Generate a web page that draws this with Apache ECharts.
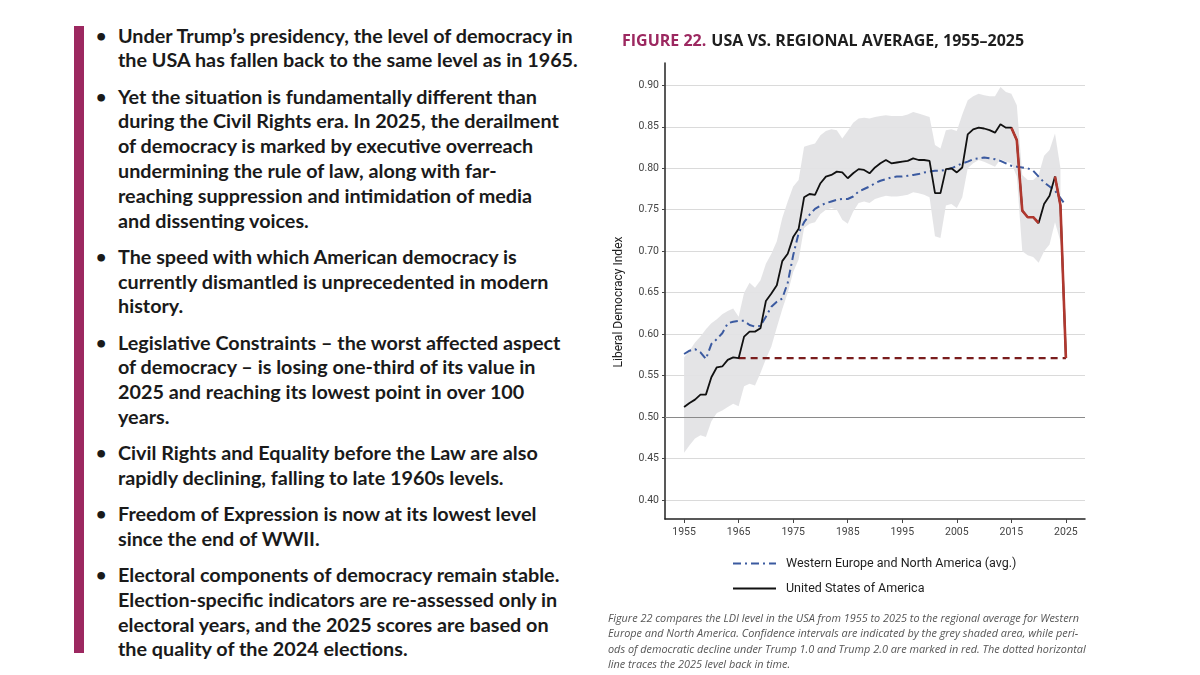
<!DOCTYPE html>
<html>
<head>
<meta charset="utf-8">
<script src="https://cdn.jsdelivr.net/npm/echarts@6/dist/echarts.min.js"></script>
<style>
html,body{margin:0;padding:0;background:#fff;}
#wrap{position:relative;width:1200px;height:675px;overflow:hidden;background:#fff;}
#chart{position:absolute;left:0;top:0;width:1200px;height:675px;}
#bar{position:absolute;left:74px;top:26px;width:10px;height:627px;background:#9c2860;}
#text{position:absolute;left:118px;top:22.6px;font-family:Lato,"Open Sans",sans-serif;font-weight:700;color:#1a1a1a;font-size:18px;}
.b{position:relative;margin-bottom:11.4px;}
.b::before{content:"\2022";position:absolute;left:-22px;top:0;line-height:24.8px;font-size:0.9em;}
.l{white-space:nowrap;line-height:24.8px;height:24.8px;}
.l span{display:inline-block;}
#cap{position:absolute;left:608px;top:609.5px;font-family:"Open Sans",sans-serif;font-style:italic;color:#555;font-size:12px;}
#cap .l{line-height:15.6px;height:15.6px;}
</style>
</head>
<body>
<div id="wrap">
  <div id="bar"></div>
  <div id="text">
    <div class="b">
      <div class="l"><span>Under Trump’s presidency, the level of democracy in</span></div>
      <div class="l"><span>the USA has fallen back to the same level as in 1965.</span></div>
    </div>
    <div class="b">
      <div class="l"><span>Yet the situation is fundamentally different than</span></div>
      <div class="l"><span>during the Civil Rights era. In 2025, the derailment</span></div>
      <div class="l"><span>of democracy is marked by executive overreach</span></div>
      <div class="l"><span>undermining the rule of law, along with far-</span></div>
      <div class="l"><span>reaching suppression and intimidation of media</span></div>
      <div class="l"><span>and dissenting voices.</span></div>
    </div>
    <div class="b">
      <div class="l"><span>The speed with which American democracy is</span></div>
      <div class="l"><span>currently dismantled is unprecedented in modern</span></div>
      <div class="l"><span>history.</span></div>
    </div>
    <div class="b">
      <div class="l"><span>Legislative Constraints – the worst affected aspect</span></div>
      <div class="l"><span>of democracy – is losing one-third of its value in</span></div>
      <div class="l"><span>2025 and reaching its lowest point in over 100</span></div>
      <div class="l"><span>years.</span></div>
    </div>
    <div class="b">
      <div class="l"><span>Civil Rights and Equality before the Law are also</span></div>
      <div class="l"><span>rapidly declining, falling to late 1960s levels.</span></div>
    </div>
    <div class="b">
      <div class="l"><span>Freedom of Expression is now at its lowest level</span></div>
      <div class="l"><span>since the end of WWII.</span></div>
    </div>
    <div class="b">
      <div class="l"><span>Electoral components of democracy remain stable.</span></div>
      <div class="l"><span>Election-specific indicators are re-assessed only in</span></div>
      <div class="l"><span>electoral years, and the 2025 scores are based on</span></div>
      <div class="l"><span>the quality of the 2024 elections.</span></div>
    </div>
  </div>
  <div id="chart"></div>
  <div id="cap">
    <div class="l"><span>Figure 22 compares the LDI level in the USA from 1955 to 2025 to the regional average for Western</span></div>
    <div class="l"><span>Europe and North America. Confidence intervals are indicated by the grey shaded area, while peri-</span></div>
    <div class="l"><span>ods of democratic decline under Trump 1.0 and Trump 2.0 are marked in red. The dotted horizontal</span></div>
    <div class="l"><span>line traces the 2025 level back in time.</span></div>
  </div>
</div>
<script>
// ---------- DATA ----------
const years = [1955,1956,1957,1958,1959,1960,1961,1962,1963,1964,
  1965,1966,1967,1968,1969,1970,1971,1972,1973,1974,
  1975,1976,1977,1978,1979,1980,1981,1982,1983,1984,
  1985,1986,1987,1988,1989,1990,1991,1992,1993,1994,
  1995,1996,1997,1998,1999,2000,2001,2002,2003,2004,
  2005,2006,2007,2008,2009,2010,2011,2012,2013,2014,
  2015,2016,2017,2018,2019,2020,2021,2022,2023,2024,2025];

const usa = [0.512,0.517,0.521,0.527,0.527,0.548,0.560,0.561,0.569,0.572,
  0.571,0.597,0.603,0.603,0.607,0.640,0.649,0.659,0.688,0.697,
  0.717,0.727,0.765,0.769,0.768,0.782,0.790,0.792,0.796,0.795,
  0.788,0.794,0.799,0.798,0.794,0.801,0.806,0.810,0.806,0.807,
  0.808,0.809,0.812,0.810,0.810,0.809,0.770,0.770,0.799,0.800,
  0.795,0.801,0.841,0.847,0.849,0.848,0.846,0.843,0.853,0.849,
  0.849,0.834,0.749,0.741,0.741,0.734,0.757,0.767,0.790,0.755,0.571];

const regional = [0.576,0.580,0.582,0.578,0.570,0.588,0.594,0.601,0.613,0.615,
  0.616,0.616,0.611,0.609,0.610,0.621,0.633,0.639,0.643,0.662,
  0.695,0.722,0.735,0.744,0.751,0.755,0.758,0.760,0.762,0.763,
  0.763,0.766,0.772,0.775,0.778,0.782,0.785,0.787,0.789,0.790,
  0.790,0.791,0.792,0.793,0.795,0.796,0.797,0.797,0.798,0.800,
  0.803,0.806,0.808,0.811,0.812,0.813,0.812,0.811,0.809,0.806,
  0.803,0.802,0.801,0.800,0.797,0.790,0.783,0.778,0.773,0.764,0.755];

const ciUpper = [0.572,0.580,0.590,0.597,0.606,0.613,0.618,0.624,0.628,0.631,
  0.621,0.650,0.662,0.656,0.665,0.685,0.697,0.712,0.740,0.760,
  0.778,0.786,0.826,0.828,0.830,0.840,0.845,0.847,0.846,0.836,
  0.845,0.855,0.860,0.861,0.860,0.862,0.863,0.864,0.863,0.863,
  0.863,0.865,0.868,0.866,0.864,0.862,0.828,0.824,0.846,0.847,
  0.845,0.865,0.882,0.887,0.890,0.888,0.887,0.887,0.898,0.892,
  0.890,0.876,0.792,0.786,0.786,0.792,0.815,0.822,0.842,0.800,null];

const ciLower = [0.457,0.466,0.474,0.478,0.476,0.495,0.505,0.508,0.512,0.516,
  0.513,0.537,0.540,0.538,0.553,0.570,0.585,0.608,0.630,0.650,
  0.675,0.690,0.728,0.733,0.735,0.745,0.750,0.752,0.750,0.738,
  0.733,0.748,0.758,0.760,0.758,0.763,0.765,0.767,0.766,0.766,
  0.767,0.768,0.771,0.770,0.768,0.765,0.718,0.716,0.755,0.757,
  0.752,0.765,0.800,0.806,0.810,0.808,0.805,0.802,0.811,0.808,
  0.806,0.790,0.700,0.695,0.693,0.686,0.700,0.708,0.735,0.712,null];

// periods of decline drawn in red (first and last year of each)
const redPeriods = [[2015, 2020], [2023, 2025]];
const refStartYear = 1965;   // dotted line traces the 2025 level back to this year

const xTicks = [1955,1965,1975,1985,1995,2005,2015,2025];
const yTicks = [0.40,0.45,0.50,0.55,0.60,0.65,0.70,0.75,0.80,0.85,0.90];

const nameRegional = 'Western Europe and North America (avg.)';
const nameUSA = 'United States of America';

// ---------- TEXT FITTING ----------
function fit(id, targetWidth, base) {
  const el = document.getElementById(id);
  el.style.fontSize = base + 'px';
  const first = el.querySelector('.l span');
  const w = first.getBoundingClientRect().width;
  el.style.fontSize = (base * targetWidth / w) + 'px';
}
fit('text', 455, 18);
fit('cap', 472, 12);

// ---------- CHART ----------
const cond = 'Roboto,"Liberation Sans",sans-serif';
const inRed = y => redPeriods.some(p => y >= p[0] && y <= p[1]);
const pair = arr => years.map((y, i) => [y, arr[i] == null ? null : arr[i]]);
const level2025 = usa[usa.length - 1];
const lastYear = years[years.length - 1];
const bandData = years.map((y, i) => [y, ciLower[i], ciUpper[i]]).filter(d => d[1] != null && d[2] != null);

const chart = echarts.init(document.getElementById('chart'), null, {renderer: 'canvas'});
chart.setOption({
  animation: false,
  backgroundColor: 'transparent',
  title: {
    left: 617, top: 27,
    text: '{a|FIGURE 22.} {b|USA VS. REGIONAL AVERAGE, 1955–2025}',
    textStyle: {
      rich: {
        a: {color: '#9c2860', fontWeight: 'bold', fontSize: 16, fontFamily: '"Open Sans",sans-serif'},
        b: {color: '#1e1e1e', fontWeight: 'bold', fontSize: 16, fontFamily: '"Open Sans",sans-serif'}
      }
    }
  },
  legend: {
    data: [nameRegional, nameUSA],
    orient: 'vertical',
    left: 727, top: 552,
    itemWidth: 43, itemHeight: 12, itemGap: 12,
    itemStyle: {opacity: 0},
    textStyle: {fontFamily: cond, fontSize: 12.5, color: '#1e1e1e', padding: [0, 0, 0, 5]}
  },
  grid: {left: 665, right: 115, top: 63, bottom: 156, containLabel: false},
  xAxis: {
    type: 'value', min: 1951.5, max: 2028.5,
    axisLine: {show: true, onZero: false, lineStyle: {color: '#222', width: 1.5}},
    axisTick: {show: true, customValues: xTicks, length: 4, lineStyle: {color: '#444'}},
    axisLabel: {customValues: xTicks, formatter: v => String(v), color: '#444', fontFamily: cond, fontSize: 10.5, margin: 8},
    splitLine: {show: false}
  },
  yAxis: {
    type: 'value', min: 0.377, max: 0.927,
    name: 'Liberal Democracy Index', nameLocation: 'middle', nameGap: 40, nameRotate: 90,
    nameTextStyle: {fontFamily: cond, fontSize: 12, color: '#1e1e1e', padding: [0, 22, 0, 0]},
    axisLine: {show: true, onZero: false, lineStyle: {color: '#222', width: 1.5}},
    axisTick: {show: true, customValues: yTicks, length: 3, lineStyle: {color: '#444'}},
    axisLabel: {customValues: yTicks, formatter: v => v.toFixed(2), color: '#444', fontFamily: cond, fontSize: 10.5, margin: 6},
    splitLine: {show: true, lineStyle: {color: '#dadada', width: 1.2}}
  },
  series: [
    {
      name: 'ci', type: 'custom', silent: true, z: 1, clip: true,
      data: bandData,
      encode: {x: 0, y: [1, 2]},
      renderItem: (params, api) => {
        if (params.dataIndex !== 0) return null;
        const top = bandData.map(d => api.coord([d[0], d[2]]));
        const bottom = bandData.map(d => api.coord([d[0], d[1]])).reverse();
        return {
          type: 'polygon',
          shape: {points: top.concat(bottom)},
          style: {fill: '#e3e3e5', opacity: 0.95}
        };
      }
    },
    {
      name: 'ref', type: 'line', data: [[refStartYear, level2025], [lastYear, level2025]],
      symbol: 'none', silent: true,
      lineStyle: {color: '#7a1d1d', width: 2.2, type: [7, 5]}, z: 2
    },
    {
      name: nameRegional, type: 'line', data: pair(regional),
      symbol: 'none', color: '#3b5aa0',
      lineStyle: {color: '#3b5aa0', width: 2, type: [8, 4, 2, 4]}, z: 3,
      markLine: {
        silent: true, symbol: 'none', label: {show: false},
        lineStyle: {color: '#8a8a8a', width: 1, type: 'solid'},
        data: [{yAxis: 0.5}]
      }
    },
    {
      name: nameUSA, type: 'line', data: pair(usa),
      symbol: 'none', color: '#111',
      lineStyle: {color: '#111', width: 1.8}, z: 4
    },
    {
      name: 'usa-red', type: 'line',
      data: years.map((y, i) => [y, inRed(y) ? usa[i] : null]),
      symbol: 'none', silent: true, connectNulls: false,
      lineStyle: {color: '#b0382f', width: 2.6}, z: 5
    }
  ]
});
</script>
</body>
</html>
